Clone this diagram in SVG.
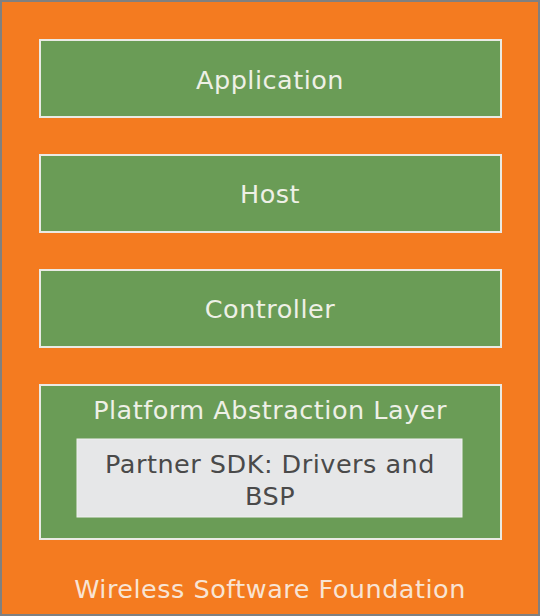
<svg xmlns="http://www.w3.org/2000/svg" width="540" height="616" viewBox="0 0 540 616">
<style>
.layer{fill:#6a9c56;stroke:#eaeae4;stroke-width:2}
.lbl{font-family:"DejaVu Sans",sans-serif;font-size:25.5px;letter-spacing:0.5px;fill:#eef0e6;text-anchor:middle}
.dark{font-family:"DejaVu Sans",sans-serif;font-size:25.5px;letter-spacing:0.5px;fill:#4a4a4a;text-anchor:middle}
</style>
<g id="foundation">
<rect x="1" y="1" width="538" height="614" fill="#f47b20" stroke="#808080" stroke-width="2"/>
<text class="lbl" x="270" y="598" style="fill:#f8e4d4">Wireless Software Foundation</text>
</g>
<g id="application">
<rect class="layer" x="40" y="40" width="461" height="77"/>
<text class="lbl" x="270" y="89">Application</text>
</g>
<g id="host">
<rect class="layer" x="40" y="155" width="461" height="77"/>
<text class="lbl" x="270" y="203">Host</text>
</g>
<g id="controller">
<rect class="layer" x="40" y="270" width="461" height="77"/>
<text class="lbl" x="270" y="318">Controller</text>
</g>
<g id="pal">
<rect class="layer" x="40" y="385" width="461" height="154"/>
<text class="lbl" x="270" y="419">Platform Abstraction Layer</text>
</g>
<g id="partner-sdk">
<rect x="77" y="439" width="385" height="78" fill="#e6e7e8" stroke="#f0f0f0" stroke-width="1"/>
<text class="dark" x="270" y="473">Partner SDK: Drivers and</text>
<text class="dark" x="270" y="505">BSP</text>
</g>
<g id="connectors"/>
</svg>
